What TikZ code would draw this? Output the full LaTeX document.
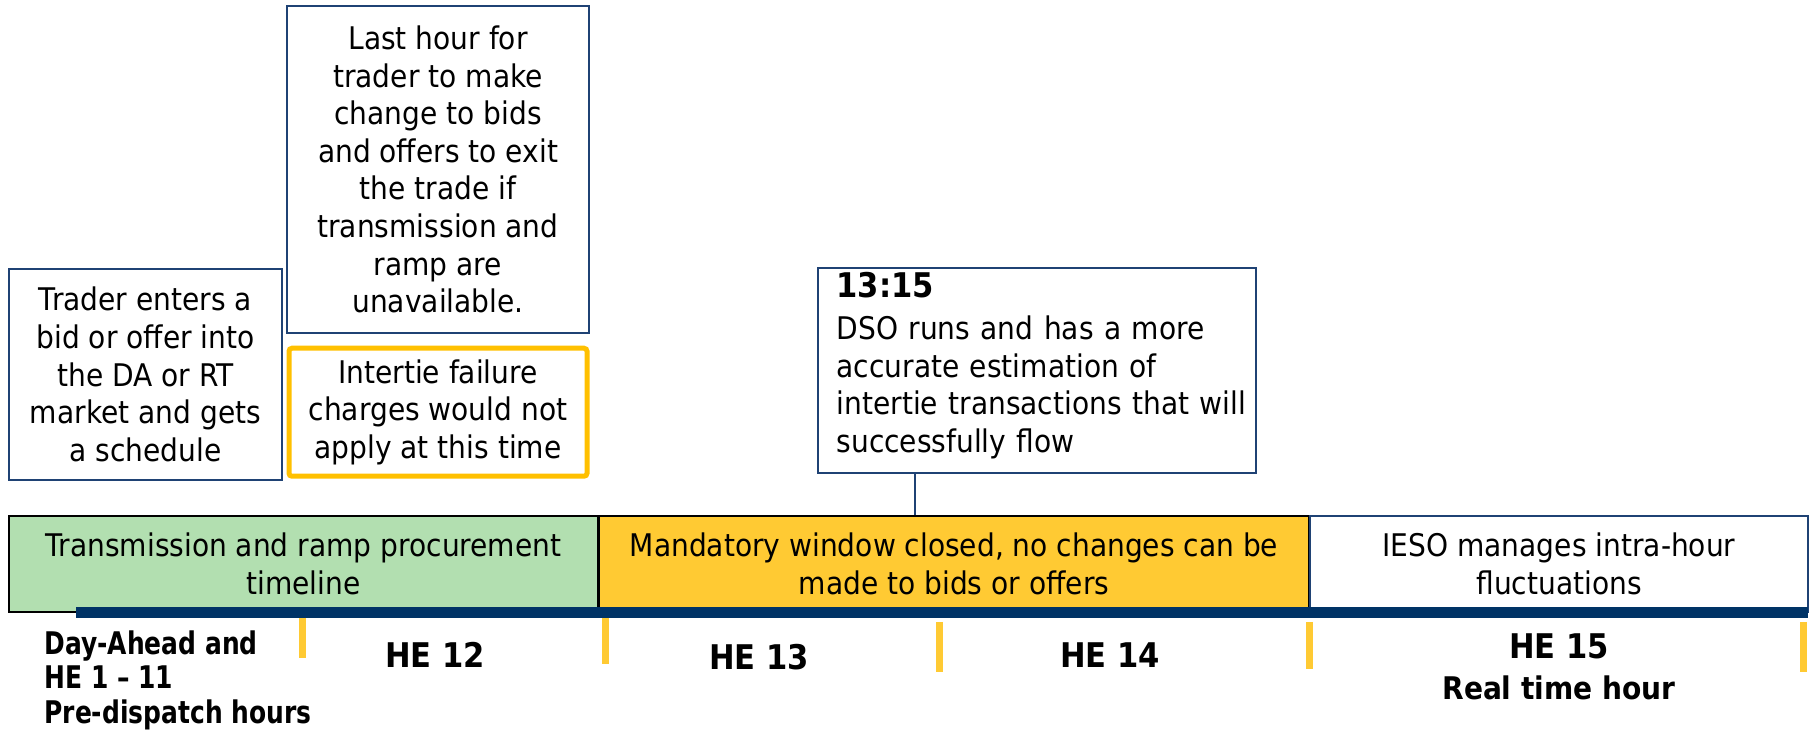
\documentclass[tikz,border=0pt]{standalone}
\usepackage{fontspec}
\setmainfont[UprightFeatures={FakeStretch=0.9},BoldFeatures={FakeStretch=0.8}]{DejaVu Sans}
\newfontfamily\hefamily[BoldFeatures={FakeStretch=0.9}]{DejaVu Sans}
\usetikzlibrary{positioning}
\definecolor{navy}{HTML}{1F4274}
\definecolor{deepnavy}{HTML}{003366}
\definecolor{gold}{HTML}{FFC000}
\definecolor{mango}{HTML}{FFCA33}
\definecolor{mint}{HTML}{B2DFB0}
\newcommand{\bodyfont}{\fontsize{15.6}{18.8}\selectfont}
\newcommand{\hourfont}{\fontsize{15.6}{17.3}\selectfont\bfseries}
\newcommand{\hefont}{\hefamily\fontsize{17}{20.5}\selectfont\bfseries}

\begin{document}
\begin{tikzpicture}[x=0.5pt,y=-0.5pt,font=\bodyfont]
\tikzstyle{note}=[draw=navy,line width=0.75pt,inner sep=0pt,align=center]
\tikzstyle{alert}=[draw=gold,line width=2.5pt,rounded corners=1.5pt,inner sep=0pt,align=center]
\tikzstyle{band}=[draw=black,line width=0.75pt,inner sep=0pt,align=center,minimum height=48pt]
\tikzstyle{hour}=[font=\hourfont,inner sep=0pt,align=center]
\tikzstyle{tick}=[draw=mango,line width=3.5pt]
\tikzstyle{link}=[draw=navy,line width=0.75pt]

\useasboundingbox (0,0) rectangle (1817,732);

% notes above the timeline
\node[note,minimum width=136.5pt,minimum height=105.5pt] (trader) at (145.5,374.5)
  {Trader enters a\\bid or offer into\\the DA or RT\\market and gets\\a schedule};
\node[note,minimum width=151pt,minimum height=163.5pt] (lasthour) at (438,169.5)
  {Last hour for\\trader to make\\change to bids\\and offers to exit\\the trade if\\transmission and\\ramp are\\unavailable.};
\node[alert,minimum width=149pt,minimum height=64pt,below=6pt of lasthour] (intertie)
  {Intertie failure\\charges would not\\apply at this time};
\node[note,minimum width=219pt,minimum height=102.5pt] (dso) at (1037,370.5) {};
\node[inner sep=0pt,align=left,text width=205pt,font=\fontsize{15.6}{18.8}\selectfont,
      below right=2.5pt and 9.5pt of dso.north west] (dsotext)
  {{\hefont 13:15}\\[2pt]DSO runs and has a more\\accurate estimation of\\intertie transactions that will\\successfully flow};

% timeline bands
\node[band,fill=mint,minimum width=294.5pt] (procure) at (303.5,564)
  {Transmission and ramp procurement\\timeline};
\node[band,fill=mango,minimum width=354.5pt,right=0pt of procure] (mandatory)
  {Mandatory window closed, no changes can be\\made to bids or offers};
\node[band,draw=navy,fill=white,minimum width=249pt,right=0pt of mandatory] (intrahour)
  {IESO manages intra-hour\\fluctuations};

\coordinate (dsofoot) at (915,516);
\draw[link] (dso.south -| dsofoot) -- (mandatory.north -| dsofoot);

% axis and hour marks
\coordinate (timestart) at (76,613);
\coordinate (timeend) at (1808,613);
\draw[deepnavy,line width=5.5pt] (timestart) -- (timeend);
\foreach \x/\a/\b in {302/618/658,605/618/664,939/622/672,1309/622/669,1803/622/672}
  \draw[tick] (\x,\a) -- (\x,\b);

\node[hour,align=left,anchor=west] (dayahead) at (44,680) {Day-Ahead and\\HE 1 -- 11\\Pre-dispatch hours};
\node[hour,font=\hefont] (he12) at (435,655) {HE 12};
\node[hour,font=\hefont] (he13) at (759,657) {HE 13};
\node[hour,font=\hefont] (he14) at (1110,655) {HE 14};
\node[hour,font=\hefont] (he15) at (1559,667) {HE 15\\{\fontsize{15.6}{20.5}\selectfont Real time hour}};
\end{tikzpicture}
\end{document}
